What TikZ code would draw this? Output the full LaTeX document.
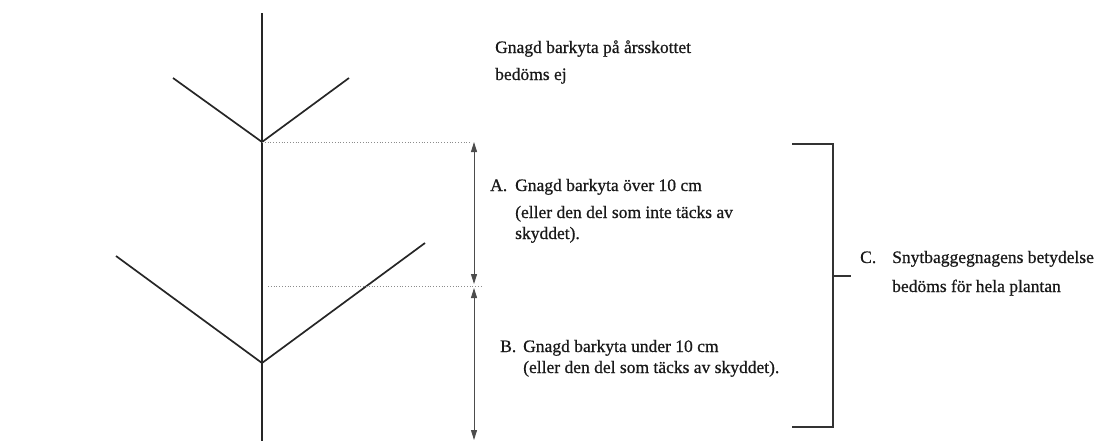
\documentclass[tikz,border=0pt]{standalone}
\usepackage{fontspec}
\setmainfont{Liberation Serif}
\newfontfamily\scanfont{Liberation Serif}[FakeBold=0.7]
\usetikzlibrary{arrows.meta}
\begin{document}
\begin{tikzpicture}[x=1pt,y=-1pt,
  stem/.style={line width=2.4pt,draw=black!85},
  branch/.style={line width=1.7pt,draw=black!85},
  guide/.style={dotted,line width=0.8pt,draw=black!45},
  dim/.style={line width=1pt,draw=black!70,-{Triangle[length=10pt,width=6pt]}},
  brk/.style={line width=1.1pt,draw=black!80},
  lbl/.style={anchor=base west,inner sep=0pt,font=\scanfont\fontsize{17.5}{20}\selectfont,text=black!90}]
\useasboundingbox (0,0) rectangle (1107,440);
% plant
\coordinate (top) at (262,13);
\coordinate (bot) at (262,442);
\coordinate (j1) at (262,142);
\coordinate (j2) at (262,363);
\coordinate (l1) at (173,78);
\coordinate (r1) at (349,78);
\coordinate (l2) at (116,256);
\coordinate (r2) at (425,243);
\draw[stem] (top) -- (bot);
\draw[branch] (l1) -- (j1) -- (r1);
\draw[branch] (l2) -- (j2) -- (r2);
% guides
\coordinate (g1e) at (470,142);
\coordinate (g2s) at (268,286);
\coordinate (g2e) at (482,286);
\draw[guide] (j1) -- (g1e);
\draw[guide] (g2s) -- (g2e);
% dimension arrows
\coordinate (a1) at (474,142);
\coordinate (a2) at (474,284);
\coordinate (a3) at (474,288);
\coordinate (a4) at (474,440);
\coordinate (am) at (474,213);
\coordinate (bm) at (474,364);
\draw[dim] (am) -- (a1);
\draw[dim] (am) -- (a2);
\draw[dim] (bm) -- (a3);
\draw[dim] (bm) -- (a4);
% bracket
\coordinate (bt) at (792,144);
\coordinate (btr) at (833,144);
\coordinate (bbr) at (833,427);
\coordinate (bb) at (792,427);
\coordinate (bm1) at (833,276);
\coordinate (bm2) at (851,276);
\draw[brk] (bt) -- (btr) -- (bbr) -- (bb);
\draw[brk] (bm1) -- (bm2);
% texts
\node[lbl] (t1) at (495,53) {Gnagd barkyta på årsskottet};
\node[lbl] (t2) at (495,80) {bedöms ej};
\node[lbl] (la) at (490,191) {A.};
\node[lbl] (a1t) at (515,191) {Gnagd barkyta över 10 cm};
\node[lbl] (a2t) at (515,218) {(eller den del som inte täcks av};
\node[lbl] (a3t) at (515,239) {skyddet).};
\node[lbl] (lb) at (500,352) {B.};
\node[lbl] (b1t) at (523,352) {Gnagd barkyta under 10 cm};
\node[lbl] (b2t) at (523,373) {(eller den del som täcks av skyddet).};
\node[lbl] (lc) at (860,263) {C.};
\node[lbl] (c1t) at (892,263) {Snytbaggegnagens betydelse};
\node[lbl] (c2t) at (892,292) {bedöms för hela plantan};
\end{tikzpicture}
\end{document}
